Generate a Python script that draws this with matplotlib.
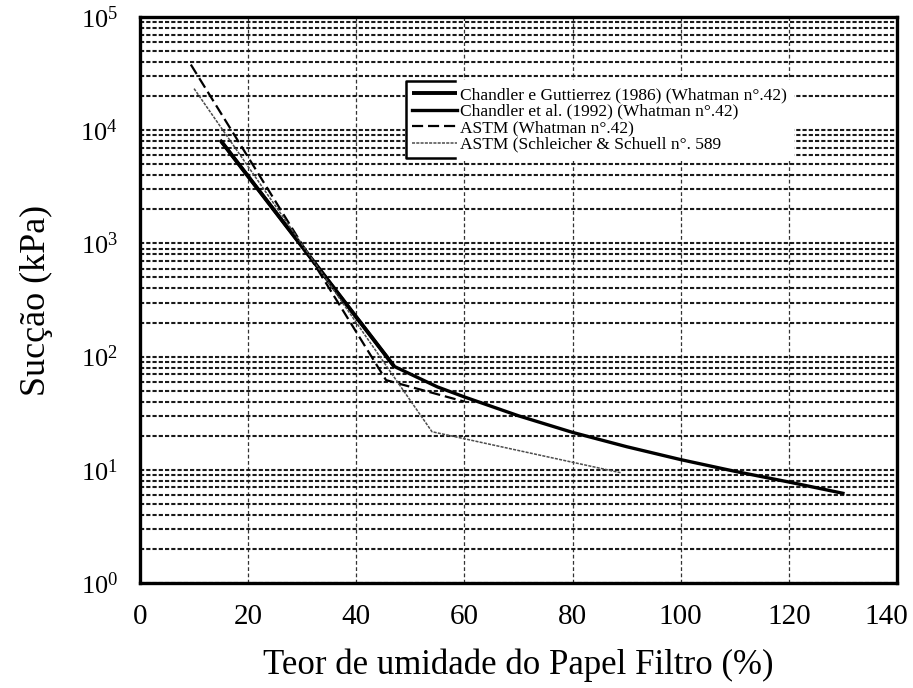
import numpy as np
import matplotlib
matplotlib.use("Agg")
import matplotlib.pyplot as plt
from matplotlib.ticker import LogLocator
from matplotlib.transforms import ScaledTranslation
from matplotlib.lines import Line2D

plt.rcParams['font.family'] = ['Liberation Serif', 'DejaVu Serif']
plt.rcParams['mathtext.fontset'] = 'custom'
plt.rcParams['mathtext.rm'] = 'Liberation Serif'

# moisture content of filter paper (%) and suction (kPa) for each calibration
w_cg86 = [15, 47]
s_cg86 = [8000, 82]

w_c92 = [15, 47, 55, 60, 70, 80, 90, 100, 110, 120, 130]
s_c92 = [8000, 82, 54, 44, 30, 21.4, 16.0, 12.3, 9.7, 7.8, 6.2]

w_astm42 = [9.4, 45.5, 60]
s_astm42 = [38000, 62, 40]

w_astm589 = [10, 54, 89]
s_astm589 = [23300, 21.7, 9.4]

xticks = [0, 20, 40, 60, 80, 100, 120, 140]

labels = ["Chandler e Guttierrez (1986) (Whatman n°.42)",
          "Chandler et al. (1992) (Whatman n°.42)",
          "ASTM (Whatman n°.42)",
          "ASTM (Schleicher & Schuell n°. 589"]

fig = plt.figure(figsize=(9.13, 6.88), dpi=100)
ax = fig.add_axes([140/913, 105/688, 757/913, 566/688])

l1, = ax.plot(w_cg86, s_cg86, color='black', lw=2.8, solid_capstyle='butt')
l2, = ax.plot(w_c92, s_c92, color='black', lw=2.4)
l3, = ax.plot(w_astm42, s_astm42, color='black', lw=1.6, dashes=(5, 2.2))
l4, = ax.plot(w_astm589, s_astm589, color='0.3', lw=1.1, dashes=(2, 0.8))

ax.set_yscale('log')
ax.set_xlim(0, 140)
ax.set_ylim(1, 1e5)
ax.set_xticks(xticks)
ax.yaxis.set_major_locator(LogLocator(base=10, numticks=10))
ax.yaxis.set_minor_locator(LogLocator(base=10, subs=np.arange(2, 10), numticks=20))

# dense horizontal grid on every log subdivision, light dashed verticals
ax.grid(True, which='both', axis='y', color='0.1', lw=1.5, dashes=(2, 1))
ax.grid(True, which='major', axis='x', color='0.2', lw=0.9, dashes=(3, 2))
ax.set_axisbelow(True)

for sp in ax.spines.values():
    sp.set_linewidth(2.4)
ax.tick_params(which='both', length=0)
ax.tick_params(axis='x', labelsize=21, pad=15)
ax.tick_params(axis='y', labelsize=19, pad=16)

# last x label pulled in so it stays inside the figure
last = ax.xaxis.get_major_ticks()[-1].label1
last.set_transform(last.get_transform() + ScaledTranslation(-0.11, 0, fig.dpi_scale_trans))

ax.set_xlabel("Teor de umidade do Papel Filtro (%)", fontsize=25)
ax.set_ylabel("Sucção (kPa)", fontsize=26)
ax.xaxis.set_label_coords(0.5, -0.115)
ax.yaxis.set_label_coords(-0.115, 0.5)

leg = ax.legend([l1, l2, l3, l4], labels, loc='upper left',
                bbox_to_anchor=(0.35, 0.889), fontsize=12.5, frameon=True,
                fancybox=False, framealpha=1, facecolor='white', edgecolor='none',
                handlelength=2.6, handletextpad=0.15, labelspacing=0.02,
                borderpad=0.42, borderaxespad=0)

# bracket-shaped border on the left side of the legend box
fig.canvas.draw()
bb = leg.get_window_extent()
inv = fig.transFigure.inverted()
(bx0, by0), (bx1, by1) = inv.transform([(bb.x0 + 1, bb.y0 + 2), (bb.x0 + 50, bb.y1 - 1)])
fig.add_artist(Line2D([bx1, bx0, bx0, bx1], [by1, by1, by0, by0],
                      transform=fig.transFigure, color='black', lw=1.8))

fig.savefig("out.png", dpi=100)
